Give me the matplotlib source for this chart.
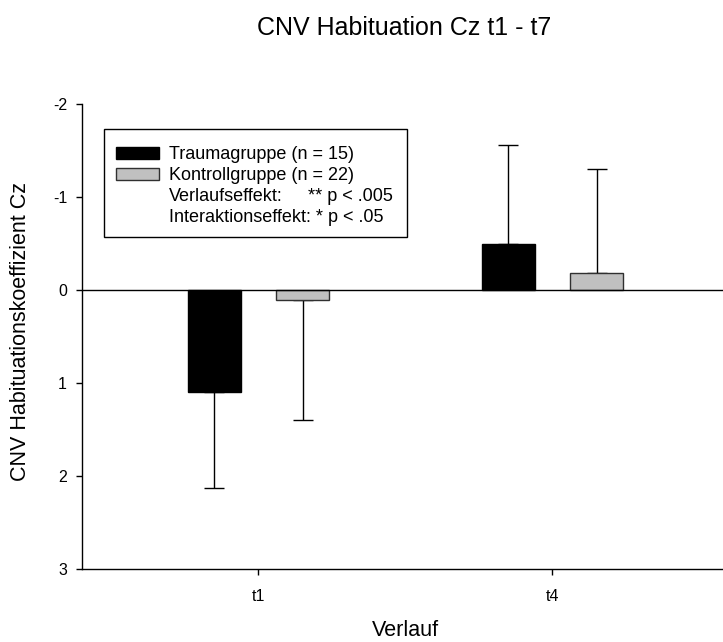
import matplotlib
matplotlib.use("Agg")
import matplotlib.pyplot as plt
from matplotlib.patches import Rectangle
import numpy as np

plt.rcParams['font.family'] = ['Liberation Sans', 'DejaVu Sans']

categories = ["t1", "t4"]
trauma_mean = [1.10, -0.49]
trauma_err = [1.03, 1.07]
kontroll_mean = [0.11, -0.18]
kontroll_err = [1.29, 1.12]
y_ticks = [-2, -1, 0, 1, 2, 3]

W, H = 723, 642
fig = plt.figure(figsize=(W / 100, H / 100), dpi=100)
ax_l, ax_r, ax_t, ax_b = 82, 723, 104, 569
ax = fig.add_axes([ax_l / W, 1 - ax_b / H, (ax_r - ax_l) / W, (ax_b - ax_t) / H])

x = np.arange(1, len(categories) + 1)
off = 0.15
bw = 0.18

def one_sided(means, errs):
    lo = [e if m < 0 else 0 for m, e in zip(means, errs)]
    hi = [e if m >= 0 else 0 for m, e in zip(means, errs)]
    return [lo, hi]

ax.bar(x - off, trauma_mean, width=bw, color='black', edgecolor='black', linewidth=1, zorder=2)
ax.bar(x + off, kontroll_mean, width=bw, color='#c0c0c0', edgecolor='#303030', linewidth=1, zorder=2)
ax.errorbar(x - off, trauma_mean, yerr=one_sided(trauma_mean, trauma_err), fmt='none',
            ecolor='black', elinewidth=1, capsize=7, capthick=1, zorder=1)
ax.errorbar(x + off, kontroll_mean, yerr=one_sided(kontroll_mean, kontroll_err), fmt='none',
            ecolor='black', elinewidth=1, capsize=7, capthick=1, zorder=1)
ax.axhline(0, color='black', linewidth=1, zorder=3)

ax.set_ylim(3, -2)
ax.set_yticks(y_ticks)
ax.set_yticklabels([str(v) for v in y_ticks])
ax.set_xlim(0.4, 2.58)
ax.set_xticks(x)
ax.set_xticklabels(categories)
ax.tick_params(direction='out', length=4.3, width=1, labelsize=11.5)
ax.tick_params(axis='y', pad=6.5)
ax.tick_params(axis='x', pad=10)
for s in ['top', 'right']:
    ax.spines[s].set_visible(False)
for s in ['left', 'bottom']:
    ax.spines[s].set_linewidth(1)

def fx(px):
    return px / W
def fy(py):
    return 1 - py / H

fig.text(fx(21), fy(332), "CNV Habituationskoeffizient Cz", fontsize=15.5,
         rotation=90, ha='center', va='center')
fig.text(fx(405), fy(636), "Verlauf", fontsize=15.5, ha='center', va='baseline')
fig.text(fx(404), fy(35), "CNV Habituation Cz t1 - t7", fontsize=18, ha='center', va='baseline')

# legend box (drawn in figure pixel coordinates)
fig.patches.append(Rectangle((fx(104), fy(237)), fx(407) - fx(104), fy(129) - fy(237),
                             transform=fig.transFigure, facecolor='white', edgecolor='black',
                             linewidth=1, zorder=5))
fig.patches.append(Rectangle((fx(116), fy(159)), fx(159) - fx(116), fy(147) - fy(159),
                             transform=fig.transFigure, facecolor='black', edgecolor='black',
                             linewidth=1, zorder=6))
fig.patches.append(Rectangle((fx(116), fy(180)), fx(159) - fx(116), fy(168) - fy(180),
                             transform=fig.transFigure, facecolor='#c0c0c0', edgecolor='#303030',
                             linewidth=1, zorder=6))
legend_lines = [
    ("Traumagruppe (n = 15)", 159),
    ("Kontrollgruppe (n = 22)", 180),
    ("Verlaufseffekt:", 201),
    ("Interaktionseffekt: * p < .05", 222),
]
for txt, py in legend_lines:
    fig.text(fx(169), fy(py), txt, fontsize=13, ha='left', va='baseline', zorder=7)
fig.text(fx(393), fy(201), "** p < .005", fontsize=13, ha='right', va='baseline', zorder=7)

fig.savefig("out.png", dpi=100)
